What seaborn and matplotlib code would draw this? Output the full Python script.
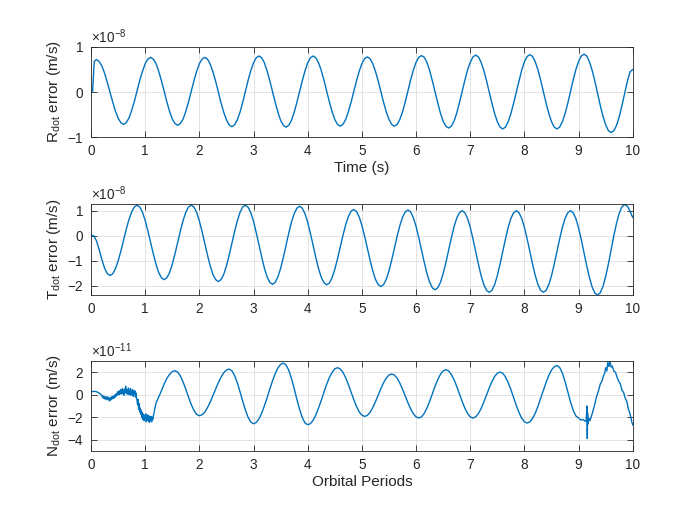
import numpy as np
import pandas as pd
import seaborn as sns
import matplotlib
matplotlib.use('Agg')
import matplotlib.pyplot as plt
from matplotlib.ticker import ScalarFormatter

sns.set_style('ticks')
plt.rcParams['font.family'] = ['Liberation Sans', 'DejaVu Sans']
plt.rcParams['mathtext.fontset'] = 'custom'
plt.rcParams['mathtext.rm'] = 'Liberation Sans'
plt.rcParams['mathtext.it'] = 'Liberation Sans:italic'
plt.rcParams['axes.unicode_minus'] = False

# radial rate error, units of 1e-8 m/s
r_t = np.concatenate([[0.0, 0.03, 0.06], np.round(np.arange(0.1, 10.001, 0.05), 2)])
r_val = [0.0, 0.02, 0.68,
         0.72, 0.68, 0.58, 0.42, 0.22, 0.00, -0.22, -0.42, -0.58, -0.68,
         -0.72, -0.68, -0.58, -0.41, -0.21, 0.03, 0.26, 0.46, 0.63, 0.73,
         0.77, 0.73, 0.63, 0.46, 0.25, 0.02, -0.22, -0.43, -0.60, -0.70,
         -0.74, -0.70, -0.60, -0.43, -0.22, 0.02, 0.25, 0.46, 0.63, 0.73,
         0.77, 0.73, 0.62, 0.45, 0.24, 0.00, -0.24, -0.45, -0.62, -0.73,
         -0.77, -0.73, -0.62, -0.45, -0.23, 0.02, 0.26, 0.48, 0.65, 0.76,
         0.80, 0.76, 0.65, 0.47, 0.25, 0.01, -0.23, -0.45, -0.63, -0.74,
         -0.78, -0.74, -0.63, -0.45, -0.23, 0.01, 0.25, 0.47, 0.65, 0.76,
         0.80, 0.76, 0.65, 0.48, 0.26, 0.02, -0.22, -0.44, -0.61, -0.72,
         -0.76, -0.72, -0.61, -0.44, -0.23, 0.01, 0.25, 0.46, 0.63, 0.74,
         0.78, 0.74, 0.63, 0.46, 0.25, 0.01, -0.23, -0.44, -0.61, -0.72,
         -0.76, -0.72, -0.61, -0.44, -0.22, 0.03, 0.27, 0.49, 0.66, 0.77,
         0.81, 0.77, 0.66, 0.48, 0.25, 0.00, -0.24, -0.47, -0.65, -0.76,
         -0.80, -0.76, -0.65, -0.47, -0.24, 0.01, 0.26, 0.49, 0.66, 0.78,
         0.82, 0.78, 0.66, 0.48, 0.25, 0.00, -0.25, -0.48, -0.66, -0.78,
         -0.82, -0.78, -0.66, -0.48, -0.25, 0.00, 0.26, 0.49, 0.67, 0.79,
         0.83, 0.79, 0.67, 0.49, 0.26, 0.00, -0.25, -0.48, -0.66, -0.78,
         -0.82, -0.78, -0.66, -0.48, -0.25, 0.01, 0.27, 0.50, 0.68, 0.80,
         0.84, 0.80, 0.67, 0.48, 0.24, -0.03, -0.30, -0.54, -0.73, -0.86,
         -0.90, -0.86, -0.74, -0.55, -0.30, -0.03, 0.24, 0.45, 0.50]

# transverse rate error, units of 1e-8 m/s
t_t = np.round(np.arange(0.0, 10.001, 0.05), 2)
t_val = [0.00, 0.00, -0.20, -0.55, -0.95, -1.30, -1.52, -1.60,
         -1.53, -1.33, -1.02, -0.63, -0.19, 0.25, 0.64, 0.95, 1.15, 1.22,
         1.15, 0.94, 0.61, 0.19, -0.27, -0.73, -1.15, -1.48, -1.69, -1.76,
         -1.69, -1.48, -1.15, -0.73, -0.27, 0.19, 0.61, 0.94, 1.15, 1.22,
         1.15, 0.93, 0.59, 0.16, -0.31, -0.78, -1.21, -1.55, -1.76, -1.84,
         -1.76, -1.55, -1.21, -0.78, -0.31, 0.16, 0.59, 0.93, 1.15, 1.22,
         1.14, 0.92, 0.57, 0.12, -0.37, -0.85, -1.30, -1.65, -1.87, -1.95,
         -1.87, -1.65, -1.31, -0.87, -0.39, 0.10, 0.54, 0.88, 1.10, 1.18,
         1.10, 0.88, 0.53, 0.09, -0.40, -0.88, -1.32, -1.67, -1.89, -1.97,
         -1.90, -1.68, -1.35, -0.93, -0.46, 0.01, 0.43, 0.76, 0.98, 1.05,
         0.97, 0.75, 0.41, -0.02, -0.50, -0.97, -1.40, -1.75, -1.96, -2.04,
         -1.96, -1.75, -1.41, -0.98, -0.51, -0.03, 0.40, 0.74, 0.95, 1.03,
         0.95, 0.72, 0.37, -0.08, -0.57, -1.06, -1.51, -1.86, -2.09, -2.17,
         -2.09, -1.87, -1.52, -1.08, -0.59, -0.10, 0.35, 0.70, 0.92, 1.00,
         0.92, 0.69, 0.33, -0.13, -0.64, -1.14, -1.60, -1.96, -2.19, -2.27,
         -2.19, -1.96, -1.60, -1.14, -0.64, -0.13, 0.33, 0.69, 0.92, 1.00,
         0.92, 0.69, 0.33, -0.13, -0.64, -1.14, -1.60, -1.96, -2.19, -2.27,
         -2.19, -1.96, -1.60, -1.14, -0.64, -0.13, 0.33, 0.69, 0.92, 1.00,
         0.92, 0.68, 0.30, -0.17, -0.69, -1.21, -1.68, -2.06, -2.30, -2.38,
         -2.29, -2.03, -1.63, -1.13, -0.57, 0.00, 0.50, 0.90, 1.16, 1.25,
         1.18, 0.98, 0.72]

# normal rate error, units of 1e-11 m/s
n_t = ([0.00, 0.05, 0.10, 0.15]
       + list(np.round(np.arange(0.20, 1.151, 0.01), 2))
       + list(np.round(np.arange(1.20, 9.001, 0.05), 2))
       + [9.04, 9.08, 9.12, 9.14, 9.155, 9.16, 9.165, 9.175, 9.19, 9.21,
          9.25, 9.29, 9.33, 9.37, 9.40, 9.43, 9.46, 9.48, 9.50, 9.52,
          9.54, 9.56, 9.58, 9.60, 9.62, 9.65, 9.68, 9.71, 9.74, 9.77,
          9.80, 9.83, 9.86, 9.89, 9.92, 9.95, 9.98, 10.00])
n_val = [0.24, 0.30, 0.27, 0.15,
         -0.05, -0.20, -0.10, -0.30, -0.15, -0.35, -0.22, -0.40, -0.18, -0.32,
         -0.45, -0.20, -0.38, -0.28, -0.55, -0.30, -0.48, -0.25, -0.40, -0.15,
         -0.35, -0.20, -0.30, -0.05, -0.25, 0.00,
         -0.15, 0.10, -0.05, 0.25, 0.05, 0.30, 0.00, 0.35, 0.10, 0.45,
         0.05, 0.30, 0.55, 0.10, 0.40, -0.05, 0.50, 0.20, 0.75, 0.15,
         0.45, 0.05, 0.35, 0.60, 0.00, 0.40, 0.15, 0.55, -0.05, 0.30,
         0.10, 0.45, -0.15, 0.25, 0.05, 0.35, -0.20, 0.15, -0.30,
         -0.50, -0.90, -0.40, -1.30, -0.80, -1.55, -1.20, -1.75, -1.40, -2.05,
         -1.60, -2.20, -1.75, -2.30, -1.85, -2.10, -1.70, -2.40, -1.90, -2.25,
         -1.80, -2.35, -2.00, -2.45, -1.90, -2.30, -1.95, -2.40, -2.00, -2.20,
         -1.90,
         -0.75, -0.20, 0.35, 0.95, 1.45, 1.80, 2.05, 2.13,
         2.01, 1.66, 1.13, 0.48, -0.22, -0.87, -1.40, -1.75, -1.87,
         -1.78, -1.54, -1.15, -0.66, -0.09, 0.50, 1.07, 1.56, 1.95, 2.19, 2.28,
         2.13, 1.71, 1.07, 0.27, -0.57, -1.37, -2.01, -2.43, -2.58,
         -2.47, -2.15, -1.65, -1.00, -0.27, 0.50, 1.23, 1.88, 2.38, 2.70, 2.81,
         2.65, 2.17, 1.44, 0.55, -0.41, -1.30, -2.03, -2.51, -2.67,
         -2.57, -2.27, -1.80, -1.19, -0.50, 0.23, 0.92, 1.53, 1.98, 2.30, 2.40,
         2.29, 1.99, 1.51, 0.90, 0.24, -0.43, -1.04, -1.52, -1.82, -1.93,
         -1.84, -1.57, -1.15, -0.63, -0.05, 0.54, 1.06, 1.48, 1.75, 1.84,
         1.74, 1.47, 1.03, 0.49, -0.12, -0.72, -1.26, -1.70, -1.97, -2.07,
         -1.97, -1.66, -1.19, -0.59, 0.08, 0.74, 1.34, 1.81, 2.12, 2.22,
         2.12, 1.81, 1.34, 0.74, 0.08, -0.59, -1.19, -1.66, -1.97, -2.07,
         -1.97, -1.68, -1.23, -0.66, -0.03, 0.60, 1.17, 1.62, 1.91, 2.01,
         1.90, 1.58, 1.08, 0.45, -0.26, -0.96, -1.59, -2.09, -2.41, -2.52,
         -2.42, -2.11, -1.64, -1.02, -0.32, 0.40, 1.10, 1.72, 2.19, 2.49, 2.60,
         2.42, 1.92, 1.16, 0.27, -0.63, -1.39, -1.89, -2.07,
         -2.25, -2.20, -2.35, -2.30, -1.00, -3.90, -1.60, -2.60, -2.10, -2.30,
         -1.70, -1.00, -0.20, 0.40, 0.95, 1.20, 1.70, 1.90, 2.40, 2.10,
         2.90, 2.50, 2.95, 2.45, 2.55, 2.10, 2.00, 1.55, 1.20, 0.95,
         0.40, 0.20, -0.30, -0.60, -1.30, -1.70, -2.40, -2.70]

assert len(r_t) == len(r_val), (len(r_t), len(r_val))
assert len(t_t) == len(t_val), (len(t_t), len(t_val))
assert len(n_t) == len(n_val), (len(n_t), len(n_val))

x_ticks = list(range(0, 11))
line_color = '#0072BD'

panels = [
    (r_t, r_val, 1e-8, 'R$_{\\mathrm{dot}}$ error (m/s)', 'Time (s)', (-1, 1), [-1, 0, 1]),
    (t_t, t_val, 1e-8, 'T$_{\\mathrm{dot}}$ error (m/s)', None, (-2.38, 1.27), [-2, -1, 0, 1]),
    (n_t, n_val, 1e-11, 'N$_{\\mathrm{dot}}$ error (m/s)', 'Orbital Periods', (-5, 3), [-4, -2, 0, 2]),
]
positions = [[0.13, 0.739, 0.774, 0.1715],
             [0.13, 0.438, 0.774, 0.1735],
             [0.13, 0.141, 0.774, 0.1715]]

fig = plt.figure(figsize=(7, 5.25), dpi=100)
for (xs, ys, scale, ylab, xlab, ylim, yticks), pos in zip(panels, positions):
    ax = fig.add_axes(pos)
    df = pd.DataFrame({'x': np.asarray(xs, dtype=float),
                       'y': np.asarray(ys, dtype=float) * scale})
    sns.lineplot(data=df, x='x', y='y', ax=ax, color=line_color, linewidth=1.0,
                 estimator=None, sort=False)
    ax.set_xlim(0, 10)
    ax.set_ylim(ylim[0] * scale, ylim[1] * scale)
    ax.set_xticks(x_ticks)
    ax.set_yticks([v * scale for v in yticks])
    fmt = ScalarFormatter(useMathText=True)
    fmt.set_powerlimits((0, 0))
    ax.yaxis.set_major_formatter(fmt)
    ax.yaxis.get_offset_text().set_fontsize(9.8)
    ax.yaxis.get_offset_text().set_color('#262626')
    ax.set_ylabel(ylab, fontsize=11, color='#262626', labelpad=3)
    ax.set_xlabel(xlab if xlab else '', fontsize=11, color='#262626', labelpad=2)
    ax.grid(True, color='#dedede', linewidth=0.6)
    ax.set_axisbelow(True)
    ax.tick_params(direction='in', top=True, right=True, length=4, width=0.6,
                   labelsize=9.8, colors='#262626', pad=5)
    for sp in ax.spines.values():
        sp.set_visible(True)
        sp.set_linewidth(0.6)
        sp.set_color('#262626')

fig.savefig('out.png', dpi=100, facecolor='white')
